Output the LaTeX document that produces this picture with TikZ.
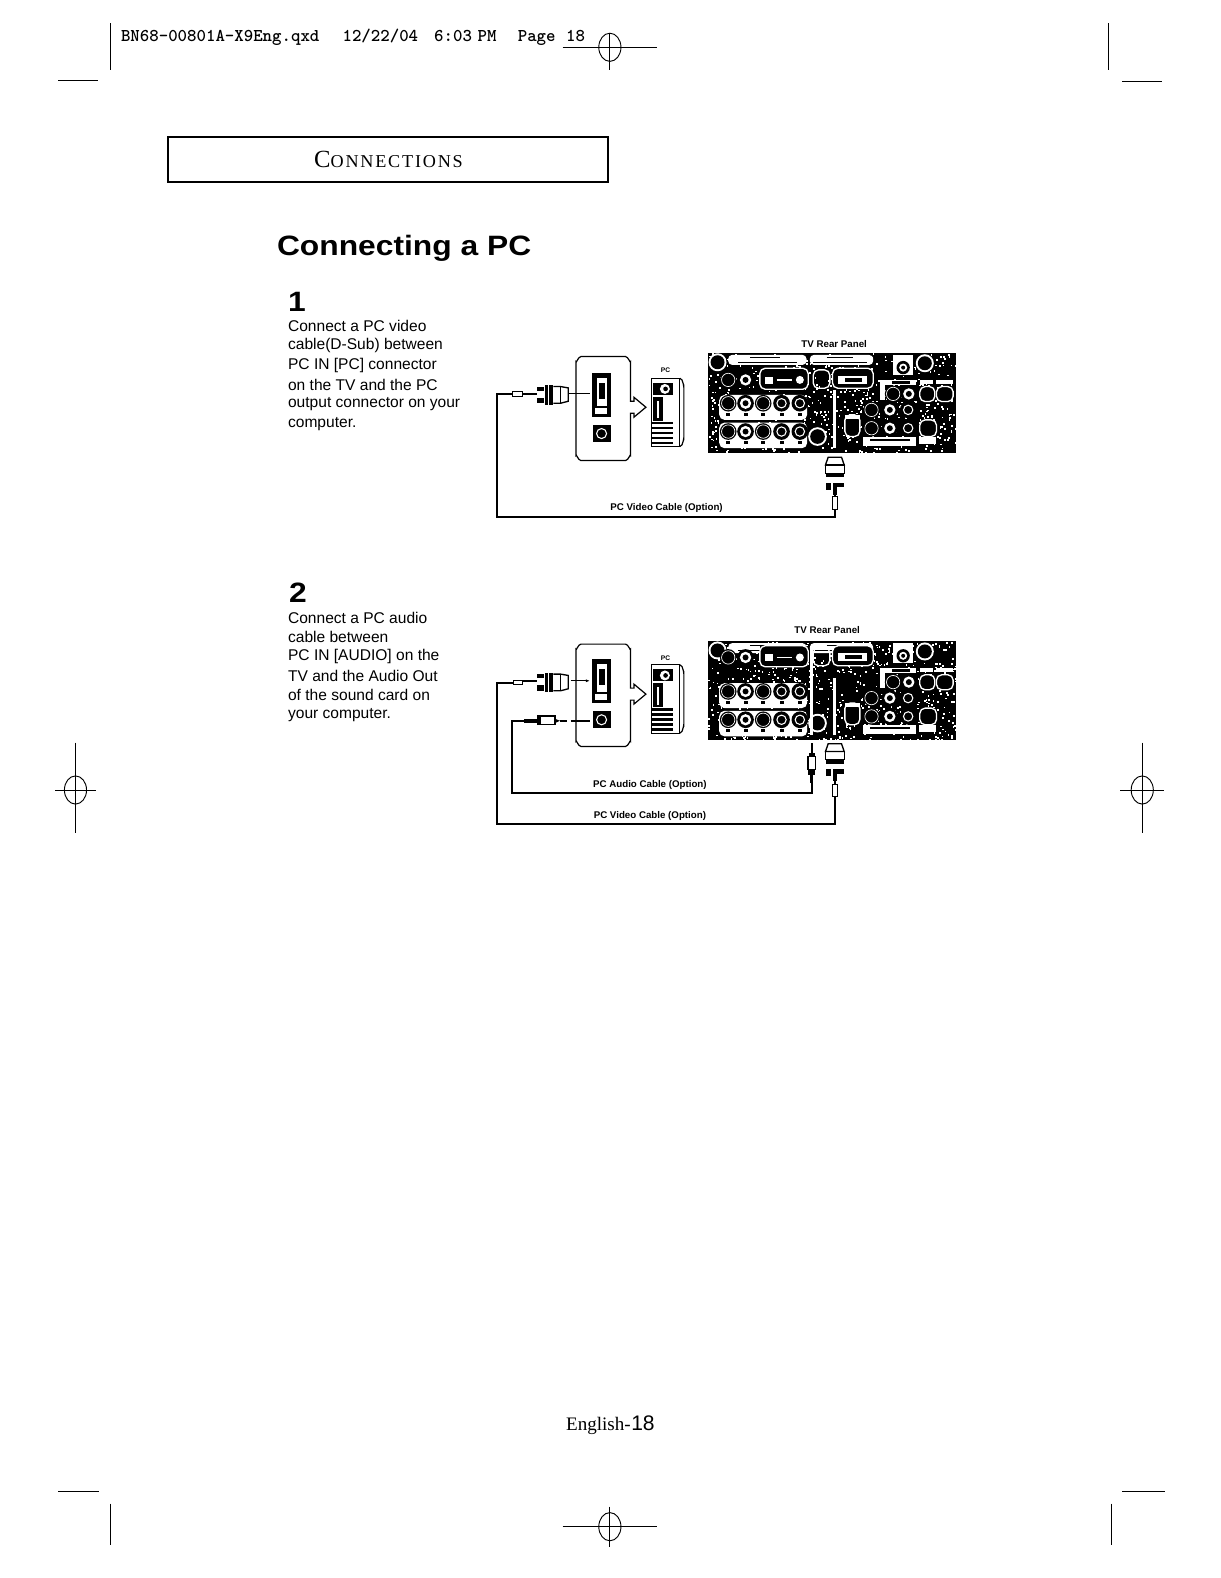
\documentclass[tikz,border=0pt]{standalone}
\usepackage{fontspec}
\usetikzlibrary{arrows.meta}
\setmainfont{Liberation Sans}
\newfontfamily\serifface{Liberation Serif}
\newfontfamily\titlefam[FakeStretch=1.135]{Liberation Sans}
\newcommand\titleface{\titlefam\bfseries}
\newcommand\jkB[2]{\fill[black] (#1,#2) circle(25);\draw[white,line width=.5pt] (#1,#2) circle(20);}
\newcommand\jkW[2]{\fill[black] (#1,#2) circle(25);\fill[white] (#1,#2) circle(17);\fill[black] (#1,#2) circle(9);}
\newcommand\jkO[2]{\fill[black] (#1,#2) circle(25);\draw[white,line width=.8pt] (#1,#2) circle(14);}
\newcommand\regcross[5]{% cx cy halfw top bottom
  \draw[regmark] (#1-#3,#2) -- (#1+#3,#2);
  \draw[regmark] (#1,#4) -- (#1,#5);
  \draw[regmark] (#1,#2) ellipse (11 and 14);}
% the rear panel: #1 = y of its top, #2 = height, #3 = y of the first jack row (from the top)
\newcommand\tvpanel[3]{%
 \begin{scope}[shift={(0,#1)}]
  \fill[black] (684,0) rectangle (1428,#2);
  \begin{scope}
   \clip (684,0) rectangle (1428,#2);
   \pgfmathsetseed{#1}
   \foreach \i in {1,...,700}{
     \pgfmathsetmacro\px{684+rnd*744}\pgfmathsetmacro\py{rnd*#2}
     \fill[white] (\px,\py) rectangle +(5,5);}
  \end{scope}
  \fill[white,rounded corners=3pt] (745,5) rectangle (980,35);
  \fill[white,rounded corners=3pt] (990,5) rectangle (1180,35);
  \draw[black,line width=.6pt] (775,27) -- (950,27) (1000,27) -- (1160,27) (810,13) -- (900,13) (1040,13) -- (1120,13);
  \fill[white] (713,27) circle(27); \fill[black] (713,27) circle(21);
  \jkB{745}{#3}\jkW{797}{#3}
  \fill[black] (840,#3-35) rectangle (985,#3+28);
  \draw[white,rounded corners=4pt,line width=1pt] (840,#3-35) rectangle (985,#3+28);
  \fill[white] (855,#3-10) rectangle (880,#3+12);
  \draw[white,line width=1pt] (890,#3) -- (935,#3); \fill[white] (960,#3) circle (12);
  \draw[white,rounded corners=4pt,line width=1pt] (1000,#3-30) rectangle (1050,#3+25);
  \draw[white,rounded corners=4pt,line width=1pt,fill=black] (1058,#3-35) rectangle (1180,#3+25);
  \fill[white] (1075,#3-12) rectangle (1160,#3+12);
  \fill[black] (1095,#3-6) rectangle (1145,#3+6);
  \fill[white] (1060,110) rectangle (1068,#2-15);
  % jack rows
  \fill[white,rounded corners=4pt] (718,125) rectangle (982,200);
  \jkB{745}{150}\jkW{797}{150}\jkB{850}{150}\jkO{905}{150}\jkO{960}{150}
  \foreach \q in {745,797,850,905,960}{\fill[black] (\q-6,178) rectangle (\q+6,188);}
  \fill[white,rounded corners=4pt] (718,208) rectangle (982,285);
  \jkB{745}{235}\jkW{797}{235}\jkB{850}{235}\jkO{905}{235}\jkO{960}{235}
  \foreach \q in {745,797,850,905,960}{\fill[black] (\q-6,262) rectangle (\q+6,272);}
  % right part
  \fill[white] (1240,5) rectangle (1300,65);
  \fill[black] (1270,43) circle(20); \fill[white] (1270,43) circle(12); \fill[black] (1270,43) circle(6);
  \fill[white] (1335,30) circle(27); \fill[black] (1335,30) circle(21);
  \fill[white] (1200,80) rectangle (1310,95);
  \fill[black] (1235,84) rectangle (1290,91);
  \fill[white] (1320,80) rectangle (1360,93);
  \fill[white] (1370,80) rectangle (1420,93);
  \fill[white] (1200,80) rectangle (1215,140);
  \jkB{1240}{122}\jkW{1287}{122}
  \draw[white,rounded corners=4pt,fill=black,line width=1pt] (1320,100) rectangle (1365,145);
  \draw[white,rounded corners=4pt,fill=black,line width=1pt] (1370,100) rectangle (1420,145);
  \jkB{1175}{170}\jkW{1230}{170}\jkO{1285}{170}
  \draw[white,rounded corners=4pt,fill=black,line width=1pt] (1095,185) rectangle (1140,250);
  \fill[white] (1095,185) rectangle (1140,197);
  \jkB{1175}{225}\jkW{1230}{225}\jkO{1285}{225}
  \draw[white,rounded corners=4pt,fill=black,line width=1pt] (1320,200) rectangle (1370,250);
  \fill[white] (1150,250) rectangle (1310,278);
  \fill[black] (1170,258) rectangle (1290,264);
  \fill[white] (1318,252) rectangle (1370,272);
  \fill[white] (1013,#2-50) circle(28); \fill[black] (1013,#2-50) circle(22);
 \end{scope}}
% horizontal D-sub plug, left end at #1, middle at #2
\newcommand\dsubH[2]{%
  \fill[black] (#1,#2-22) rectangle (#1+22,#2-10);
  \fill[black] (#1,#2+12) rectangle (#1+22,#2+28);
  \fill[black] (#1+25,#2-26) rectangle (#1+33,#2+32);
  \fill[black] (#1+38,#2-26) rectangle (#1+48,#2+32);
  \draw[line width=1pt] (#1+50,#2-22) -- (#1+72,#2-22) -- (#1+95,#2-18) -- (#1+95,#2+22) -- (#1+72,#2+28) -- (#1+50,#2+28);
  \draw[line width=1pt] (#1+72,#2-22) -- (#1+72,#2+28);}
% vertical D-sub plug, top at #2, centre at #1
\newcommand\dsubV[2]{%
  \draw[line width=1pt] (#1-20,#2+2) -- (#1+20,#2+2) -- (#1+28,#2+25) -- (#1-28,#2+25) -- cycle;
  \draw[line width=1pt] (#1-28,#2+25) rectangle (#1+28,#2+50);
  \fill[black] (#1-28,#2+50) rectangle (#1+28,#2+62);
  \fill[black] (#1-26,#2+78) rectangle (#1-12,#2+100);
  \fill[black] (#1+2,#2+78) rectangle (#1+26,#2+92);
  \fill[black] (#1-7,#2+78) rectangle (#1+7,#2+115);}
% the PC side
\newcommand\pcside[5]{% #1 box top, #2 box bottom, #3 arrow y, #4 port top, #5 tower top
  \draw[thinbox] (452,#3-18) -- (452,#1+15) to[out=-90,in=0] (437,#1) -- (303,#1) to[out=180,in=-90] (288,#1+15) -- (288,#2-15) to[out=90,in=180] (303,#2) -- (437,#2) to[out=0,in=90] (452,#2-15) -- (452,#3+18) -- (462,#3+18) -- (462,#3+30) -- (498,#3) -- (462,#3-30) -- (462,#3-18) -- cycle;
  \fill[black] (336,#4) rectangle (393,#4+132);
  \fill[white] (352,#4+15) rectangle (380,#4+100);
  \fill[black] (358,#4+30) rectangle (374,#4+80);
  \fill[white] (345,#4+106) rectangle (380,#4+124);
  \fill[black] (338,#4+158) rectangle (393,#4+208);
  \draw[white,line width=.8pt] (365,#4+183) circle (15);
  % tower
  \draw[line width=.9pt] (515,#5) rectangle (600,#5+205);
  \draw[line width=.9pt] (600,#5) to[out=0,in=-90] (612,#5+25) -- (612,#5+180) to[out=90,in=0] (600,#5+205);
  \fill[black] (520,#5+13) rectangle (580,#5+50);
  \fill[white] (555,#5+32) circle (15); \fill[black] (557,#5+32) circle (7);
  \fill[black] (518,#5+55) rectangle (550,#5+128);
  \fill[white] (530,#5+68) rectangle (538,#5+120);
  \foreach \q in {0,1,2,3,4}{\fill[black] (516,#5+130+\q*15) rectangle (580,#5+138+\q*15);}
}
\tikzset{
  regmark/.style={line width=.7pt,black},
  cable/.style={line width=1.5pt,black},
  thinbox/.style={line width=.9pt,black,fill=white},
  lead/.style={line width=.8pt,black},
  bodytext/.style={anchor=west,inner sep=0pt,font=\fontsize{11.67}{14}\selectfont},
  smalllabel/.style={inner sep=0pt,font=\fontsize{7.3}{9}\selectfont\bfseries},
  tinylabel/.style={inner sep=0pt,font=\fontsize{5}{6}\selectfont\bfseries},
  stepno/.style={inner sep=0pt,font=\fontsize{21}{24}\titleface}
}
\begin{document}
\begin{tikzpicture}[x=.755pt,y=-.755pt]
\useasboundingbox (0,0) rectangle (1213,1568);
% printer's marks
\node[anchor=west,inner sep=0pt,font=\fontsize{13.5}{15}\ttfamily\bfseries] (hdr) at (120,37) {BN68-00801A-X9Eng.qxd\hspace{17.4pt}12/22/04\hspace{12pt}6:03\hspace{4.2pt}PM\hspace{16pt}Page\hspace{7.9pt}18};
\draw[regmark] (110,23) -- (110,70);
\draw[regmark] (58,80) -- (97,80);
\draw[regmark] (1101,23) -- (1101,70);
\draw[regmark] (1115,81) -- (1155,81);
\regcross{606}{47}{47}{33}{70}
\regcross{75}{785}{20}{738}{828}
\regcross{1135}{785}{22}{738}{828}
\draw[regmark] (58,1482) -- (98,1482);
\draw[regmark] (1115,1482) -- (1158,1482);
\draw[regmark] (110,1494) -- (110,1535);
\draw[regmark] (1104,1494) -- (1104,1535);
\regcross{606}{1517}{47}{1497}{1537}
% heading
\draw[line width=1.5pt] (167,136) rectangle (604,181);
\node[inner sep=0pt,anchor=base,font=\serifface] (sect) at (386,166) {\fontsize{18.5}{20}\selectfont C\fontsize{13.6}{20}\selectfont\addfontfeature{LetterSpace=10}ONNECTIONS};
\node[anchor=base west,inner sep=0pt,font=\fontsize{21}{24}\titleface] (title) at (275,254) {Connecting a PC};
\node[stepno,anchor=base] (no1) at (295,310) {1};
\node[stepno,anchor=base] (no2) at (296,599) {2};
\node[bodytext] (a1) at (286,324) {Connect a PC video};
\node[bodytext] (a2) at (286,343.5) {cable(D-Sub) between};
\node[bodytext] (a3) at (286,363) {PC IN [PC] connector};
\node[bodytext] (a4) at (286,382.5) {on the TV and the PC};
\node[bodytext] (a5) at (286,402) {output connector on your};
\node[bodytext] (a6) at (286,421) {computer.};
\node[bodytext] (b1) at (286,614) {Connect a PC audio};
\node[bodytext] (b2) at (286,633) {cable between};
\node[bodytext] (b3) at (286,652.5) {PC IN [AUDIO] on the};
\node[bodytext] (b4) at (286,671.5) {TV and the Audio Out};
\node[bodytext] (b5) at (286,691) {of the sound card on};
\node[bodytext] (b6) at (286,710.5) {your computer.};
\node[inner sep=0pt,anchor=base east,font=\serifface\fontsize{14.3}{16}\selectfont] (eng) at (627,1421) {English-};
\node[inner sep=0pt,anchor=base west,font=\fontsize{15.8}{16}\selectfont] (engn) at (eng.base east) {18};
% ---------- diagram 1
\begin{scope}[shift={(476.9,317.9)},x=.25pt,y=-.25pt]
 \tvpanel{100}{300}{80}
 \pcside{110}{422}{262}{158}{175}
 \node[smalllabel] (tv1) at (1063,72) {TV Rear Panel};
 \node[tinylabel] (pc1) at (557,152) {PC};
 \node[smalllabel] (vid1) at (560,564) {PC Video Cable (Option)};
 \coordinate (v1a) at (100,222);
 \coordinate (v1b) at (52,222);
 \coordinate (v1c) at (52,592);
 \coordinate (v1d) at (1065,592);
 \coordinate (v1e) at (1065,520);
 \draw[cable] (v1a) -- (v1b) -- (v1c) -- (v1d) -- (v1e);
 \fill[white] (98,214) rectangle (128,230);
 \draw[line width=.8pt] (98,214) rectangle (128,230);
 \coordinate (v1f) at (128,222); \coordinate (v1g) at (170,222);
 \draw[cable] (v1f) -- (v1g);
 \dsubH{170}{222}
 \coordinate (p1a) at (268,222); \coordinate (p1b) at (330,222);
 \draw[lead] (p1a) -- (p1b);
 \dsubV{1065}{410}
 \fill[white] (1058,530) rectangle (1072,570);
 \draw[line width=.8pt] (1058,530) rectangle (1072,570);
\end{scope}
% ---------- diagram 2
\begin{scope}[shift={(476.9,610.9)},x=.25pt,y=-.25pt]
 \tvpanel{80}{295}{48}
 \fill[white] (990,100) rectangle (998,360);
 \pcside{88}{395}{238}{132}{150}
 \node[smalllabel] (tv2) at (1042,46) {TV Rear Panel};
 \node[tinylabel] (pc2) at (557,130) {PC};
 \node[smalllabel] (aud2) at (510,512) {PC Audio Cable (Option)};
 \node[smalllabel] (vid2) at (510,604) {PC Video Cable (Option)};
 \coordinate (v2a) at (100,205);
 \coordinate (v2b) at (52,205);
 \coordinate (v2c) at (52,628);
 \coordinate (v2d) at (1065,628);
 \coordinate (v2e) at (1065,500);
 \draw[cable] (v2a) -- (v2b) -- (v2c) -- (v2d) -- (v2e);
 \draw[line width=.6pt] (100,198) rectangle (128,208);
 \coordinate (v2f) at (128,200); \coordinate (v2g) at (170,200);
 \draw[cable] (v2f) -- (v2g);
 \dsubH{170}{200}
 \coordinate (p2a) at (272,198); \coordinate (p2b) at (330,198);
 \draw[lead,-{Latex[length=3pt]}] (p2a) -- (p2b);
 \dsubV{1065}{385}
 \fill[white] (1058,508) rectangle (1072,545);
 \draw[line width=.8pt] (1058,508) rectangle (1072,545);
 % audio cable
 \coordinate (a2a) at (133,318);
 \coordinate (a2b) at (95,318);
 \coordinate (a2c) at (95,535);
 \coordinate (a2d) at (995,535);
 \coordinate (a2e) at (995,500);
 \draw[cable] (a2a) -- (a2b) -- (a2c) -- (a2d) -- (a2e);
 \fill[black] (133,312) rectangle (170,326);
 \fill[black] (170,302) rectangle (180,332);
 \draw[line width=1pt,fill=white] (180,304) rectangle (225,330);
 \fill[black] (225,312) -- (240,318) -- (225,325) -- cycle;
 \coordinate (a2f) at (240,318); \coordinate (a2g) at (262,318);
 \draw[cable] (a2f) -- (a2g);
 \coordinate (a2h) at (272,318); \coordinate (a2i) at (330,318);
 \draw[cable] (a2h) -- (a2i);
 \coordinate (a2j) at (995,385); \coordinate (a2k) at (995,415);
 \draw[cable] (a2j) -- (a2k);
 \fill[black] (986,415) rectangle (1004,425);
 \draw[line width=1pt,fill=white] (984,425) rectangle (1006,465);
 \fill[black] (984,465) rectangle (1006,482);
 \fill[black] (990,482) rectangle (1000,505);
\end{scope}
\end{tikzpicture}
\end{document}
